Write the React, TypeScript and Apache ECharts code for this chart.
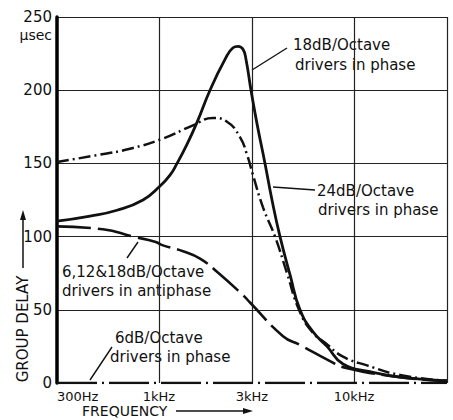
import React, { useEffect, useRef } from "react";
import * as echarts from "echarts";

// Frequencies in Hz, group delay in microseconds
const freq18InPhase = [300, 443, 609, 828, 1013, 1139, 1238, 1392, 1567, 1827, 2181, 2397, 2543, 2697, 2795, 2965, 3184, 3497, 3799, 4176, 4699, 5289, 6165, 7273, 8787, 12088, 17223, 30000];
const delay18InPhase = [110.5, 114, 118, 125, 134.5, 142, 150, 163, 178, 200, 221, 229, 230, 228, 221, 200, 177, 150, 125, 100, 74, 50, 35, 25, 13, 7.7, 4, 1.5];

const freq24InPhase = [300, 499, 710, 1049, 1495, 1893, 2233, 2603, 2828, 3035, 3416, 3937, 4537, 5226, 6093, 7187, 8787, 11665, 17223, 30000];
const delay24InPhase = [151, 156, 160, 167, 176, 181, 178.5, 168, 156, 142, 120, 100, 75, 50, 35, 27, 18, 12, 5.5, 1.5];

const freqAntiphase = [300, 516, 736, 954, 1049, 1329, 1624, 1984, 2697, 2930, 4327, 5289, 7536, 8997, 17223, 30000];
const delayAntiphase = [107, 105, 100, 96.5, 94, 90, 85, 76, 60, 55, 32, 26, 15, 10.5, 4, 1.5];

const freq6InPhase = [300, 30000];
const delay6InPhase = [0, 0];

const xTickFreqs = [300, 1000, 3000, 10000];
const xTickLabels = ["300Hz", "1kHz", "3kHz", "10kHz"];
const xGridFreqs = [1000, 3000, 10000, 30000];
const yTicks = [0, 50, 100, 150, 200, 250];

const FONT = "DejaVu Sans";
const INK = "#111";

const toPoints = (f: number[], d: number[]) => f.map((v, i) => [Math.log10(v), d[i]]);

export default function App() {
  const ref = useRef<HTMLDivElement>(null);
  useEffect(() => {
    document.body.style.margin = "0";
    if (!ref.current) return;
    const chart = echarts.init(ref.current, null, { renderer: "svg" });
    const txt = (x: number, y: number, s: string, align = "left", size = 15) => ({
      type: "text",
      x,
      y,
      style: { text: s, fill: INK, font: `${size}px "${FONT}"`, align, verticalAlign: "middle" },
      silent: true,
    });
    const ln = (x1: number, y1: number, x2: number, y2: number, w = 1.4) => ({
      type: "line",
      shape: { x1, y1, x2, y2 },
      style: { stroke: INK, lineWidth: w },
      silent: true,
    });
    chart.setOption({
      animation: false,
      grid: { left: 57, right: 6, top: 17, bottom: 37, containLabel: false },
      xAxis: {
        type: "value",
        min: Math.log10(300),
        max: Math.log10(30000),
        axisLine: { show: false },
        axisTick: { show: false, customValues: xGridFreqs.map((f) => Math.log10(f)) },
        axisLabel: {
          customValues: xTickFreqs.map((f) => Math.log10(f)),
          alignMinLabel: "left",
          margin: 7,
          color: INK,
          fontSize: 13,
          fontFamily: FONT,
          formatter: (v: number) => {
            const i = xTickFreqs.findIndex((f) => Math.abs(Math.log10(f) - v) < 1e-6);
            return i >= 0 ? xTickLabels[i] : "";
          },
        },
        splitLine: { show: true, lineStyle: { color: "#222", width: 1.2 } },
      },
      yAxis: {
        type: "value",
        min: yTicks[0],
        max: yTicks[yTicks.length - 1],
        interval: 50,
        axisLine: { show: true, lineStyle: { color: "#000", width: 3.5 } },
        axisTick: { show: false },
        axisLabel: { color: INK, fontSize: 15, fontFamily: FONT, margin: 5 },
        splitLine: { show: true, showMinLine: false, lineStyle: { color: "#222", width: 1.2 } },
      },
      series: [
        {
          name: "6dB/Octave drivers in phase",
          type: "line",
          data: toPoints(freq6InPhase, delay6InPhase),
          showSymbol: false,
          lineStyle: { color: INK, width: 2.5, type: [40, 5, 2, 5] },
        },
        {
          name: "6,12&18dB/Octave drivers in antiphase",
          type: "line",
          data: toPoints(freqAntiphase, delayAntiphase),
          showSymbol: false,
          smooth: 0.5,
          lineStyle: { color: INK, width: 2.6, type: [34, 7] },
        },
        {
          name: "24dB/Octave drivers in phase",
          type: "line",
          data: toPoints(freq24InPhase, delay24InPhase),
          showSymbol: false,
          smooth: 0.5,
          lineStyle: { color: INK, width: 2.5, type: [12, 4, 2, 4] },
        },
        {
          name: "18dB/Octave drivers in phase",
          type: "line",
          data: toPoints(freq18InPhase, delay18InPhase),
          showSymbol: false,
          smooth: 0.5,
          lineStyle: { color: INK, width: 2.8 },
        },
      ],
      graphic: [
        txt(52, 35, "μsec", "right", 14),
        txt(293, 45, "18dB/Octave"),
        txt(295, 65, "drivers in phase"),
        ln(287, 48, 252, 70),
        txt(317, 191, "24dB/Octave"),
        txt(318, 210, "drivers in phase"),
        ln(315, 190, 273, 187),
        txt(62, 272, "6,12&18dB/Octave"),
        txt(62, 291, "drivers in antiphase"),
        ln(127, 258, 138, 242),
        txt(115, 338, "6dB/Octave"),
        txt(110, 357, "drivers in phase"),
        ln(90, 380, 112, 347),
        {
          type: "text",
          x: 23,
          y: 329,
          rotation: Math.PI / 2,
          style: { text: "GROUP DELAY", fill: INK, font: `15px "${FONT}"`, align: "center", verticalAlign: "middle" },
          silent: true,
        },
        ln(23, 268, 23, 218, 1.5),
        { type: "polygon", shape: { points: [[23, 210], [20, 220], [26, 220]] }, style: { fill: INK }, silent: true },
        txt(82, 411, "FREQUENCY", "left", 14),
        ln(176, 411, 245, 411, 1.5),
        { type: "polygon", shape: { points: [[253, 411], [243, 408], [243, 414]] }, style: { fill: INK }, silent: true },
      ],
    });
    return () => chart.dispose();
  }, []);
  return <div ref={ref} style={{ width: 453, height: 420 }} />;
}
